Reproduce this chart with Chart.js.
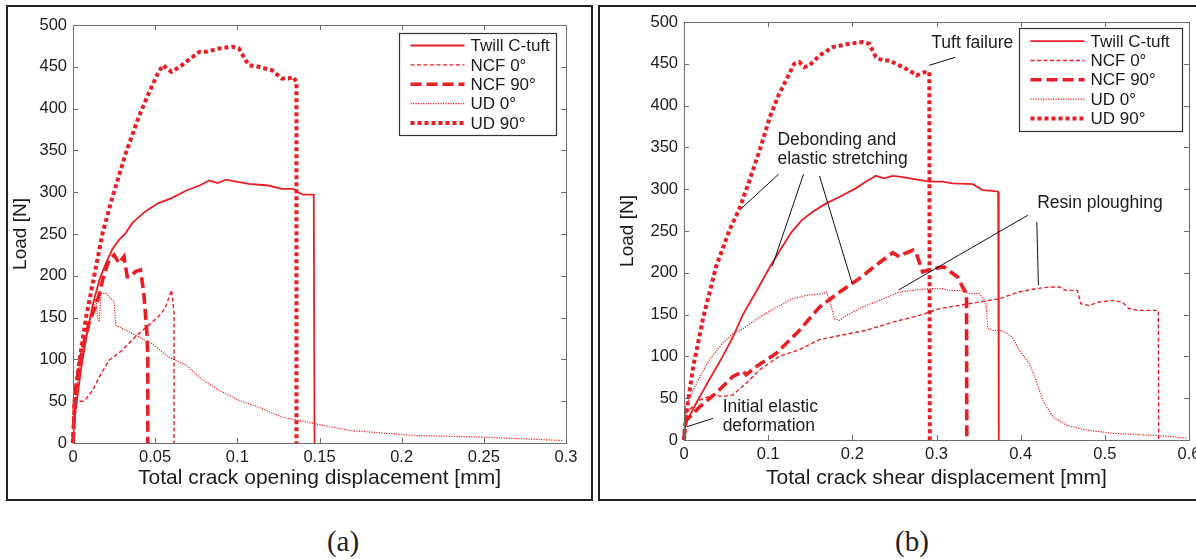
<!DOCTYPE html>
<html>
<head>
<meta charset="utf-8">
<script src="https://cdn.jsdelivr.net/npm/chart.js@4.4.1/dist/chart.umd.min.js"></script>
<style>
  html, body { margin: 0; padding: 0; background: #fff; width: 1196px; height: 560px; overflow: hidden; }
  .panel { position: absolute; top: 5px; height: 496px; border: 2px solid #222; box-sizing: border-box; }
  #panelA { left: 6px; width: 587px; }
  #panelB { left: 598px; width: 620px; }
  .wrap { position: absolute; top: 0; height: 505px; }
  #wrapA { left: 0; width: 596px; }
  #wrapB { left: 598px; width: 598px; }
  .cap { position: absolute; top: 525px; width: 80px; line-height: 32px; text-align: center;
         font-family: "Liberation Serif", "Times New Roman", serif; font-size: 29px; color: #222; }
</style>
</head>
<body>
<div class="panel" id="panelA"></div>
<div class="panel" id="panelB"></div>
<div class="wrap" id="wrapA"><canvas id="chartA"></canvas></div>
<div class="wrap" id="wrapB"><canvas id="chartB"></canvas></div>
<div class="cap" style="left:303px">(a)</div>
<div class="cap" style="left:872px">(b)</div>

<script>
/* ============================================================
   Load vs. crack displacement — (a) opening, (b) shear
   ============================================================ */

const RED = "#ea1d25";
const INK = "#1c1c1c";
const AXIS = "#6e6e6e";
const FONT = "'Liberation Sans', Arial, sans-serif";

const SERIES_LABELS = ["Twill C-tuft", "NCF 0°", "NCF 90°", "UD 0°", "UD 90°"];
const Y_TICKS_MAX = 500;

/* ---------- (a) crack opening ---------- */
const A_TWILL_X = [0, 0.001, 0.003, 0.005, 0.008, 0.012, 0.016, 0.02, 0.024, 0.028, 0.032, 0.036, 0.044, 0.052, 0.06, 0.069, 0.077, 0.083, 0.088, 0.093, 0.101, 0.107, 0.119, 0.127, 0.134, 0.137, 0.14, 0.1465, 0.147];
const A_TWILL_Y = [0, 30, 60, 90, 125, 165, 195, 215, 232, 243, 251, 263, 277, 287, 293, 302, 308, 314, 311, 315, 312, 310, 308, 304, 304, 300, 297, 297, 0];

const A_NCF0_X = [0, 0.0005, 0.001, 0.003, 0.006, 0.008, 0.012, 0.016, 0.022, 0.03, 0.038, 0.046, 0.052, 0.056, 0.06, 0.0615, 0.0615];
const A_NCF0_Y = [0, 30, 48, 50, 50, 53, 63, 79, 99, 111, 127, 141, 151, 161, 183, 155, 0];

const A_NCF90_X = [0, 0.001, 0.002, 0.004, 0.006, 0.008, 0.01, 0.012, 0.014, 0.016, 0.018, 0.02, 0.022, 0.025, 0.028, 0.031, 0.033, 0.035, 0.038, 0.041, 0.043, 0.045, 0.0455, 0.0455];
const A_NCF90_Y = [0, 55, 70, 95, 115, 130, 145, 155, 165, 178, 195, 208, 219, 225, 215, 223, 199, 199, 205, 207, 181, 131, 100, 0];

const A_UD0_X = [0, 0.001, 0.003, 0.005, 0.008, 0.011, 0.014, 0.015, 0.016, 0.017, 0.02, 0.025, 0.026, 0.032, 0.04, 0.048, 0.058, 0.069, 0.079, 0.089, 0.101, 0.113, 0.127, 0.1475, 0.168, 0.208, 0.2485, 0.298];
const A_UD0_Y = [0, 45, 80, 105, 130, 155, 172, 150, 145, 179, 179, 169, 141, 135, 127, 119, 103, 93, 75, 63, 51, 43, 31, 23, 15, 9, 7, 3];

const A_UD90_X = [0, 0.001, 0.004, 0.008, 0.012, 0.018, 0.024, 0.032, 0.04, 0.046, 0.052, 0.055, 0.057, 0.06, 0.065, 0.073, 0.077, 0.081, 0.089, 0.097, 0.101, 0.105, 0.107, 0.113, 0.121, 0.127, 0.131, 0.134, 0.136, 0.136];
const A_UD90_Y = [0, 51, 99, 151, 191, 251, 294, 346, 390, 418, 444, 452, 448, 444, 450, 462, 468, 468, 472, 474, 472, 458, 452, 450, 446, 436, 436, 438, 432, 0];

/* ---------- (b) crack shear ---------- */
const B_TWILL_X = [0, 0.002, 0.015, 0.03, 0.046, 0.058, 0.07, 0.086, 0.102, 0.116, 0.128, 0.14, 0.153, 0.169, 0.185, 0.204, 0.216, 0.228, 0.238, 0.248, 0.256, 0.2915, 0.307, 0.319, 0.343, 0.355, 0.3666, 0.3733, 0.374];
const B_TWILL_Y = [0, 20, 45, 72, 100, 123, 150, 178, 207, 230, 249, 263, 273, 283, 291, 301, 309, 316, 313, 316, 315, 309, 309, 307, 306, 299, 298, 297, 0];

const B_NCF0_X = [0, 0.001, 0.002, 0.019, 0.034, 0.046, 0.058, 0.074, 0.09, 0.113, 0.137, 0.161, 0.185, 0.216, 0.248, 0.2797, 0.3033, 0.327, 0.351, 0.3745, 0.398, 0.418, 0.434, 0.446, 0.4536, 0.4674, 0.469, 0.4714, 0.481, 0.493, 0.509, 0.5205, 0.5287, 0.5406, 0.5635, 0.564];
const B_NCF0_Y = [0, 20, 32, 48, 54, 52, 54, 68, 84, 100, 108, 120, 125, 131, 141, 149, 157, 161, 165, 169, 177, 181, 183, 183, 179, 179, 173, 163, 161, 165, 167, 165, 157, 155, 155, 0];

const B_NCF90_X = [0, 0.001, 0.003, 0.019, 0.038, 0.058, 0.07, 0.074, 0.086, 0.11, 0.137, 0.161, 0.185, 0.208, 0.232, 0.248, 0.256, 0.262, 0.272, 0.276, 0.2816, 0.2836, 0.2955, 0.309, 0.317, 0.325, 0.331, 0.3357, 0.336];
const B_NCF90_Y = [0, 15, 24, 40, 56, 76, 82, 78, 88, 104, 131, 159, 177, 193, 212, 224, 219, 223, 227, 223, 207, 201, 205, 207, 201, 195, 183, 175, 0];

const B_UD0_X = [0, 0.001, 0.002, 0.015, 0.03, 0.046, 0.058, 0.07, 0.09, 0.11, 0.129, 0.145, 0.165, 0.169, 0.173, 0.179, 0.185, 0.193, 0.212, 0.232, 0.256, 0.272, 0.2915, 0.307, 0.315, 0.327, 0.339, 0.351, 0.3587, 0.361, 0.3666, 0.378, 0.39, 0.398, 0.41, 0.418, 0.426, 0.438, 0.4536, 0.477, 0.509, 0.5485, 0.58, 0.598];
const B_UD0_Y = [0, 25, 40, 68, 96, 116, 127, 133, 147, 159, 169, 173, 175, 177, 167, 145, 143, 149, 159, 167, 177, 179, 181, 181, 179, 179, 175, 175, 165, 134, 131, 131, 123, 108, 92, 72, 48, 28, 18, 12, 8, 6, 4, 2];

const B_UD90_X = [0, 0.002, 0.005, 0.011, 0.023, 0.038, 0.054, 0.066, 0.078, 0.09, 0.102, 0.113, 0.125, 0.131, 0.137, 0.143, 0.149, 0.161, 0.177, 0.197, 0.212, 0.22, 0.228, 0.236, 0.244, 0.256, 0.268, 0.276, 0.2855, 0.2915, 0.292];
const B_UD90_Y = [0, 25, 48, 88, 147, 207, 251, 277, 311, 347, 386, 414, 438, 450, 452, 446, 448, 460, 470, 474, 476, 474, 458, 454, 454, 448, 442, 436, 440, 440, 0];

/* ---------- Annotations (b), in data units ---------- */
const NOTE_TEXT = [["Tuft failure"], ["Debonding and", "elastic stretching"], ["Resin ploughing"], ["Initial elastic", "deformation"]];
const NOTE_AT = [[0.2938, 474.5], [0.111, 358.5], [0.4196, 283], [0.0459, 39.4]];
const LEADERS = [
  [[0.2914, 448.2], [0.3222, 457.7]],
  [[0.1123, 317.9], [0.0681, 276.9]],
  [[0.142, 317.9], [0.1049, 208]],
  [[0.161, 315.9], [0.1998, 187.3]],
  [[0.4086, 268.9], [0.2547, 179.3]],
  [[0.4192, 260.9], [0.4211, 185.3]],
  [[0.0344, 25.9], [0.0036, 15.9]],
];

/* ---------- Line styles: Twill, NCF 0, NCF 90, UD 0, UD 90 ---------- */
const LINE_W = [1.8, 1.4, 3.6, 1.2, 4];
const LINE_DASH = [[], [4, 2.5], [11, 5], [1.2, 1.3], [4, 3]];

/* ---------- Helpers ---------- */
const zip = (xs, ys) => xs.map((x, i) => ({ x, y: ys[i] }));
const fmtTick = (v) => String(+Number(v).toFixed(2));

function makeDatasets(series) {
  return series.map(([xs, ys], i) => ({
    label: SERIES_LABELS[i],
    data: zip(xs, ys),
    borderColor: RED,
    borderWidth: LINE_W[i],
    borderDash: LINE_DASH[i],
    borderCapStyle: "butt",
    borderJoinStyle: "miter",
    pointRadius: 0,
    tension: 0,
    fill: false,
    clip: 4,
  }));
}

// Labels sticking out past the plot must not shrink the plot area
function noLabelPadding(s) {
  s.paddingLeft = 0;
  s.paddingRight = 0;
  s.paddingTop = 0;
  s.paddingBottom = 0;
}

/* MATLAB-style box with inward ticks on all four sides */
const framePlugin = {
  id: "frame",
  afterDatasetsDraw(chart) {
    const { ctx, chartArea: a, scales } = chart;
    ctx.save();
    ctx.strokeStyle = AXIS;
    ctx.lineWidth = 1;
    ctx.beginPath();
    scales.x.ticks.forEach((t) => {
      const px = Math.round(scales.x.getPixelForValue(t.value)) + 0.5;
      ctx.moveTo(px, a.bottom); ctx.lineTo(px, a.bottom - 5);
      ctx.moveTo(px, a.top); ctx.lineTo(px, a.top + 5);
    });
    scales.y.ticks.forEach((t) => {
      const py = Math.round(scales.y.getPixelForValue(t.value)) + 0.5;
      ctx.moveTo(a.left, py); ctx.lineTo(a.left + 5, py);
      ctx.moveTo(a.right, py); ctx.lineTo(a.right - 5, py);
    });
    ctx.stroke();
    ctx.strokeRect(Math.round(a.left) + 0.5, Math.round(a.top) + 0.5, Math.round(a.width), Math.round(a.height));
    ctx.restore();
  },
};

/* Boxed legend with dashed samples */
const boxLegendPlugin = {
  id: "boxLegend",
  afterDraw(chart, args, opts) {
    const { ctx, chartArea: a } = chart;
    const x0 = Math.round(a.right - opts.right - opts.width) + 0.5;
    const y0 = Math.round(a.top + opts.top) + 0.5;
    ctx.save();
    ctx.fillStyle = "#fff";
    ctx.fillRect(x0, y0, opts.width, opts.height);
    ctx.strokeStyle = "#333";
    ctx.lineWidth = 1.2;
    ctx.strokeRect(x0, y0, opts.width, opts.height);
    ctx.font = `17px ${FONT}`;
    ctx.textBaseline = "middle";
    chart.data.datasets.forEach((ds, i) => {
      const y = y0 + opts.firstRow + i * opts.rowGap;
      ctx.strokeStyle = ds.borderColor;
      ctx.lineWidth = ds.borderWidth;
      ctx.lineCap = "butt";
      ctx.setLineDash(ds.borderDash);
      ctx.beginPath();
      ctx.moveTo(x0 + 11, y);
      ctx.lineTo(x0 + 65, y);
      ctx.stroke();
      ctx.setLineDash([]);
      ctx.fillStyle = INK;
      ctx.fillText(ds.label, x0 + 71, y + 1);
    });
    ctx.restore();
  },
};

/* Text notes with leader lines (only used by chart b) */
const notesPlugin = {
  id: "notes",
  afterDatasetsDraw(chart, args, opts) {
    if (!opts.on) return;
    const { ctx, scales } = chart;
    const X = (v) => scales.x.getPixelForValue(v);
    const Y = (v) => scales.y.getPixelForValue(v);
    ctx.save();
    ctx.strokeStyle = "#111";
    ctx.lineWidth = 1;
    LEADERS.forEach(([p, q]) => {
      ctx.beginPath();
      ctx.moveTo(X(p[0]), Y(p[1]));
      ctx.lineTo(X(q[0]), Y(q[1]));
      ctx.stroke();
    });
    ctx.font = `17.5px ${FONT}`;
    ctx.fillStyle = INK;
    ctx.textBaseline = "middle";
    NOTE_TEXT.forEach((lines, i) => {
      const [nx, ny] = NOTE_AT[i];
      lines.forEach((s, k) => ctx.fillText(s, X(nx), Y(ny) + k * 19));
    });
    ctx.restore();
  },
};

/* ============================================================
   Chart builder
   ============================================================ */
function buildChart(id, cfg) {
  return new Chart(document.getElementById(id), {
    type: "line",
    data: { datasets: makeDatasets(cfg.series) },
    options: {
      responsive: true,
      maintainAspectRatio: false,
      animation: false,
      events: [],
      layout: { autoPadding: false, padding: { top: cfg.padTop, right: cfg.padRight, left: 0, bottom: 0 } },
      plugins: {
        legend: { display: false },
        tooltip: { enabled: false },
        boxLegend: cfg.legend,
        notes: { on: cfg.notes },
      },
      scales: {
        x: {
          type: "linear",
          min: 0,
          max: cfg.xMax,
          grid: { display: false, drawTicks: false },
          border: { display: false },
          ticks: { stepSize: cfg.xStep, padding: 5, color: INK, font: { size: 16.5 }, maxRotation: 0, autoSkip: false, callback: fmtTick },
          title: { display: true, text: cfg.xTitle, color: INK, font: { size: 21 }, padding: { top: 0, bottom: 14.5 } },
          afterFit: (s) => { s.height = cfg.xHeight; noLabelPadding(s); },
        },
        y: {
          min: 0,
          max: Y_TICKS_MAX,
          grid: { display: false, drawTicks: false },
          border: { display: false },
          ticks: { stepSize: 50, padding: 6, color: INK, font: { size: 16.5 }, callback: fmtTick },
          title: { display: true, text: "Load [N]", color: INK, font: { size: 19 }, padding: { top: cfg.yTitlePad, bottom: 0 } },
          afterFit: (s) => { s.width = cfg.yWidth; noLabelPadding(s); },
        },
      },
    },
    plugins: [framePlugin, boxLegendPlugin, notesPlugin],
  });
}

function init() {
  Chart.defaults.font.family = FONT;
  Chart.defaults.color = INK;

  buildChart("chartA", {
    series: [[A_TWILL_X, A_TWILL_Y], [A_NCF0_X, A_NCF0_Y], [A_NCF90_X, A_NCF90_Y], [A_UD0_X, A_UD0_Y], [A_UD90_X, A_UD90_Y]],
    xMax: 0.3, xStep: 0.05,
    xTitle: "Total crack opening displacement [mm]",
    padTop: 25, padRight: 30, yWidth: 73, xHeight: 62, yTitlePad: 9.5,
    legend: { right: 10, top: 8, width: 157, height: 102, firstRow: 12, rowGap: 19.4 },
    notes: false,
  });

  buildChart("chartB", {
    series: [[B_TWILL_X, B_TWILL_Y], [B_NCF0_X, B_NCF0_Y], [B_NCF90_X, B_NCF90_Y], [B_UD0_X, B_UD0_Y], [B_UD90_X, B_UD90_Y]],
    xMax: 0.6, xStep: 0.1,
    xTitle: "Total crack shear displacement [mm]",
    padTop: 22, padRight: 7, yWidth: 86, xHeight: 65, yTitlePad: 18.5,
    legend: { right: 7, top: 6, width: 163, height: 103, firstRow: 12.7, rowGap: 19.3 },
    notes: true,
  });
}

document.addEventListener("DOMContentLoaded", init);
</script>
</body>
</html>
